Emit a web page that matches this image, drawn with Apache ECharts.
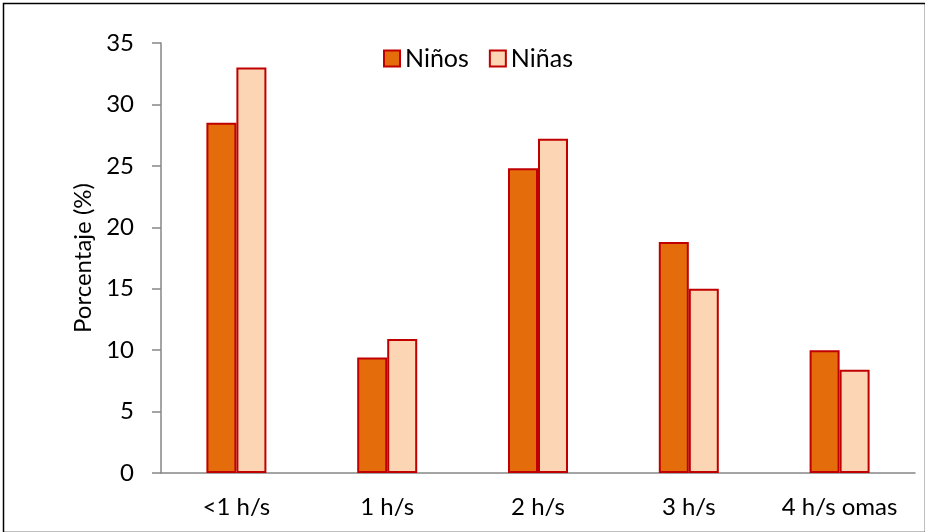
<!DOCTYPE html>
<html><head><meta charset="utf-8">
<script src="https://cdn.jsdelivr.net/npm/echarts@6/dist/echarts.min.js"></script>
<style>html,body{margin:0;padding:0;background:#fff}#c{width:925px;height:532px}</style>
</head><body><div id="c"></div>
<script>
const categories = ['<1 h/s', '1 h/s', '2 h/s', '3 h/s', '4 h/s omas'];
const ninos = [28.5, 9.4, 24.8, 18.8, 10.0];
const ninas = [33.0, 10.9, 27.2, 15.0, 8.4];
const yTicks = {min: 0, max: 35, interval: 5};

const chart = echarts.init(document.getElementById('c'), null, {renderer: 'canvas'});
const font = 'Lato, "Open Sans", "Liberation Sans", sans-serif';
chart.setOption({
  animation: false,
  backgroundColor: '#fff',
  graphic: [{type: 'rect', left: 1, top: 1, shape: {x: 0, y: 0, width: 922, height: 529}, style: {fill: 'none', stroke: '#000', lineWidth: 1.5}, z: 100}],
  legend: {
    top: 41, left: 378, itemWidth: 16, itemHeight: 16, itemGap: 20,
    icon: 'rect',
    textStyle: {fontSize: 25, color: '#000', fontFamily: font},
    data: ['Niños', 'Niñas']
  },
  grid: {left: 161, right: 10, top: 43, bottom: 59, containLabel: false},
  xAxis: {
    type: 'category', data: categories,
    axisLine: {lineStyle: {color: '#868686', width: 1.5}},
    axisTick: {show: false},
    axisLabel: {color: '#000', fontSize: 24, fontFamily: font, margin: 22}
  },
  yAxis: {
    type: 'value', min: yTicks.min, max: yTicks.max, interval: yTicks.interval,
    name: 'Porcentaje (%)', nameLocation: 'middle', nameGap: 62,
    nameTextStyle: {fontSize: 24, color: '#000', fontFamily: font},
    axisLine: {show: true, lineStyle: {color: '#868686', width: 1.5}},
    axisTick: {show: true, length: 9, lineStyle: {color: '#868686', width: 1.5}},
    splitLine: {show: false},
    axisLabel: {color: '#000', fontSize: 24, fontFamily: font, margin: 27}
  },
  series: [
    {name: 'Niños', type: 'bar', data: ninos, barWidth: 30, barGap: '0%',
     itemStyle: {color: '#E46C0A', borderColor: '#C00000', borderWidth: 2}},
    {name: 'Niñas', type: 'bar', data: ninas, barWidth: 30, barGap: '0%',
     itemStyle: {color: '#FCD5B5', borderColor: '#C00000', borderWidth: 2}}
  ]
});
</script></body></html>
